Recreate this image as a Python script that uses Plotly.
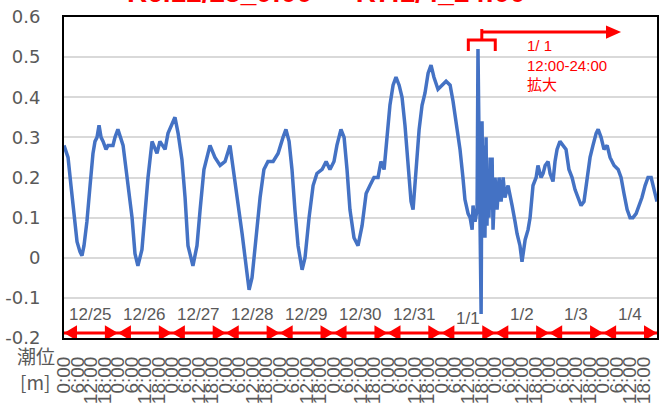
import plotly.graph_objects as go

# ---- data ----
day_labels = ["12/25", "12/26", "12/27", "12/28", "12/29", "12/30", "12/31",
              "1/1", "1/2", "1/3", "1/4"]
tick_hours = list(range(0, 265, 6))
tick_texts = ["0:00", "6:00", "12:00", "18:00"] * 11 + ["0:00"]
y_tickvals = [0.6, 0.5, 0.4, 0.3, 0.2, 0.1, 0.0, -0.1, -0.2]
y_ticktext = ["0.6", "0.5", "0.4", "0.3", "0.2", "0.1", "0", "-0.1", "-0.2"]

# hours since 12/25 0:00
hours = [
    0.0, 0.9, 1.8, 3.1, 4.5, 5.8, 7.1, 8.0, 8.9, 10.2, 11.6, 12.9, 13.8, 14.7, 15.6,
    16.5, 17.4, 18.7, 19.6, 20.9, 21.8, 22.7, 24.0,
    26.3, 28.0, 30.3, 31.6, 32.9, 34.7, 36.1, 37.4, 39.2, 41.4, 42.7, 45.0, 46.3,
    48.5, 49.4, 50.8, 52.5, 53.9, 55.2, 57.4, 59.2, 60.6, 62.3, 65.0, 67.2, 69.5,
    71.7, 73.9, 75.2, 77.0, 79.3, 81.5, 82.4, 83.7, 85.5, 87.3, 89.0, 90.8, 93.1,
    95.3, 97.5, 98.8, 100.2, 101.5, 102.8, 104.2, 106.0, 107.3, 109.1, 110.9,
    112.6, 114.9, 116.7, 118.4, 120.2, 121.5, 123.3, 124.7, 126.0, 127.3, 129.1,
    130.9, 132.7, 134.5, 136.2, 138.0, 139.8, 141.1, 142.5, 143.8, 145.1, 146.5,
    147.8, 149.2, 150.5, 151.8, 153.2, 154.5, 155.4, 156.7, 158.1, 159.4, 160.7,
    162.1, 163.4, 164.7, 166.5, 168.3, 170.1, 171.9, 173.2, 175.0, 176.3, 177.6,
    178.5, 179.9, 180.8, 181.7, 182.1, 183.0, 183.9, 184.3, 185.2, 185.7, 186.1,
    186.6, 187.0, 187.4, 187.9, 188.3, 188.8, 189.2, 189.7, 190.1, 190.6, 191.0,
    191.9, 192.8, 193.7, 194.6, 195.5, 196.3, 197.7, 198.6, 199.5, 200.8, 201.7,
    203.0, 203.9, 205.3, 206.6, 207.5, 208.8, 210.2, 211.0, 212.4, 213.3, 214.2,
    215.5, 216.4, 217.7, 218.6, 219.5, 220.8, 222.2, 223.5, 224.8, 226.2, 227.5,
    228.8, 230.2, 231.5, 232.9, 234.2, 235.5, 236.9, 237.8, 239.1, 240.4, 241.8,
    243.1, 244.9, 246.7, 248.0, 249.3, 250.7, 252.0, 253.3, 254.7, 256.0, 257.3,
    258.7, 260.0, 261.4, 262.7, 264.0,
]
level = [
    0.28, 0.265, 0.25, 0.18, 0.10, 0.04, 0.015, 0.005, 0.03, 0.09, 0.18, 0.26, 0.29, 0.30, 0.33,
    0.30, 0.29, 0.27, 0.28, 0.28, 0.28, 0.30, 0.32,
    0.28, 0.20, 0.10, 0.01, -0.02, 0.02, 0.11, 0.20, 0.29, 0.26, 0.29, 0.27, 0.31,
    0.34, 0.35, 0.31, 0.245, 0.15, 0.03, -0.02, 0.03, 0.12, 0.22, 0.28, 0.25, 0.23,
    0.24, 0.28, 0.23, 0.16, 0.06, -0.04, -0.08, -0.05, 0.05, 0.15, 0.22, 0.24, 0.24,
    0.26, 0.30, 0.32, 0.29, 0.22, 0.12, 0.03, -0.03, 0.0, 0.10, 0.18,
    0.21, 0.22, 0.24, 0.22, 0.24, 0.28, 0.32, 0.30, 0.22, 0.12, 0.05,
    0.03, 0.08, 0.16, 0.18, 0.20, 0.20, 0.24, 0.22, 0.30, 0.38, 0.43,
    0.45, 0.43, 0.40, 0.33, 0.22, 0.14, 0.12, 0.22, 0.32, 0.38, 0.41,
    0.46, 0.48, 0.45, 0.42, 0.43, 0.44, 0.43, 0.39, 0.32, 0.27, 0.20,
    0.145, 0.11, 0.10, 0.07, 0.13, 0.09, 0.12, 0.52, 0.10, -0.14, 0.34,
    0.10, 0.28, 0.05, 0.30, 0.08, 0.22, 0.10, 0.25, 0.12, 0.25, 0.07,
    0.20, 0.12, 0.20, 0.14, 0.20, 0.15, 0.18, 0.15, 0.13, 0.09, 0.06,
    0.03, -0.01, 0.045, 0.07, 0.10, 0.18, 0.20, 0.23, 0.20, 0.21, 0.23,
    0.24, 0.21, 0.19, 0.24, 0.27, 0.29, 0.28, 0.27, 0.22, 0.20, 0.17,
    0.15, 0.13, 0.14, 0.20, 0.25, 0.28, 0.31, 0.32, 0.30, 0.27, 0.28,
    0.25, 0.23, 0.22, 0.20, 0.16, 0.12, 0.10, 0.10, 0.11, 0.13, 0.15,
    0.18, 0.20, 0.20, 0.17, 0.14,
]

GRAY = "#595959"
RED = "#FF0000"
BLUE = "#4472C4"

fig = go.Figure()
fig.add_trace(go.Scatter(x=hours, y=level, mode="lines",
                         line=dict(color=BLUE, width=3.5), showlegend=False,
                         hoverinfo="skip"))

shapes = []
# red double-arrow row for each day
row_y = -0.1875
head_w = 5.8     # hours
head_h = 0.019
shapes.append(dict(type="line", xref="x", yref="y", x0=0, x1=24 * len(day_labels),
                   y0=row_y, y1=row_y, line=dict(color=RED, width=3), layer="above"))
annotations = []
for i, lab in enumerate(day_labels):
    s = 24 * i
    e = 24 * (i + 1)
    shapes.append(dict(type="path", xref="x", yref="y",
                       path=f"M {s},{row_y} L {s + head_w},{row_y + head_h} L {s + head_w},{row_y - head_h} Z",
                       fillcolor=RED, line=dict(width=0), layer="above"))
    shapes.append(dict(type="path", xref="x", yref="y",
                       path=f"M {e},{row_y} L {e - head_w},{row_y + head_h} L {e - head_w},{row_y - head_h} Z",
                       fillcolor=RED, line=dict(width=0), layer="above"))
    annotations.append(dict(x=s + 12, y=(-0.1525 if lab == "1/1" else -0.1425),
                            xref="x", yref="y", text=lab, showarrow=False,
                            font=dict(family="Liberation Sans", size=17, color=GRAY)))

# bracket 1/1 12:00-24:00 and arrow
b0, b1, bc = 180, 192, 186
shapes.append(dict(type="path", xref="x", yref="y",
                   path=f"M {b0},0.515 L {b0},0.5425 L {b1},0.5425 L {b1},0.515",
                   line=dict(color=RED, width=3), layer="above"))
shapes.append(dict(type="line", xref="x", yref="y", x0=bc, x1=bc, y0=0.5425, y1=0.57,
                   line=dict(color=RED, width=3), layer="above"))
shapes.append(dict(type="line", xref="x", yref="y", x0=bc, x1=242, y0=0.5625, y1=0.5625,
                   line=dict(color=RED, width=3), layer="above"))
shapes.append(dict(type="path", xref="x", yref="y",
                   path="M 248,0.5625 L 241.3,0.579 L 241.3,0.546 Z",
                   fillcolor=RED, line=dict(width=0), layer="above"))

annotations.append(dict(x=205.3, y=0.555, xref="x", yref="y", xanchor="left", yanchor="top",
                        align="left", showarrow=False,
                        text="1/ 1<br>12:00-24:00<br>拡大",
                        font=dict(family="Liberation Sans, Noto Sans CJK JP", size=15, color=RED)))

# clipped title
annotations.append(dict(x=0.442, y=1.022, xref="paper", yref="paper", xanchor="center",
                        yanchor="bottom", showarrow=False,
                        text="<b>R6.12/25_0:00 ～ R7.1/4_24:00</b>",
                        font=dict(family="Liberation Sans, Noto Sans CJK JP", size=28, color=RED)))

# axis title
annotations.append(dict(x=-0.0826, y=-0.053, xref="paper", yref="paper", xanchor="left",
                        yanchor="middle", showarrow=False, text="潮位",
                        font=dict(family="Noto Sans CJK JP", size=19, color=GRAY)))
annotations.append(dict(x=-0.049, y=-0.137, xref="paper", yref="paper", xanchor="center",
                        yanchor="middle", showarrow=False, text="[m]",
                        font=dict(family="Noto Sans CJK JP", size=19, color=GRAY)))

fig.update_layout(
    width=666, height=404,
    margin=dict(l=64, r=9, t=17, b=66, autoexpand=False),
    paper_bgcolor="white", plot_bgcolor="white",
    shapes=shapes, annotations=annotations,
    xaxis=dict(range=[0, 264], tickvals=tick_hours, ticktext=tick_texts, tickangle=-90,
               showgrid=False, zeroline=False, showline=True, linecolor="black",
               linewidth=2, mirror=True, ticks="outside", ticklen=9,
               tickcolor="rgba(0,0,0,0)", automargin=False,
               tickfont=dict(family="Liberation Sans", size=19, color=GRAY)),
    yaxis=dict(range=[-0.2, 0.6], tickvals=y_tickvals, ticktext=y_ticktext,
               showgrid=True, gridcolor="#D9D9D9", gridwidth=1.5, zeroline=False,
               showline=True, linecolor="black", linewidth=2, mirror=True,
               ticks="outside", ticklen=18, tickcolor="rgba(0,0,0,0)", automargin=False,
               tickfont=dict(family="DejaVu Sans", size=18, color=GRAY)),
)

fig.write_html("out.html", config={"displayModeBar": False},
               post_script="document.body.style.margin='0';document.body.style.overflow='hidden';")
